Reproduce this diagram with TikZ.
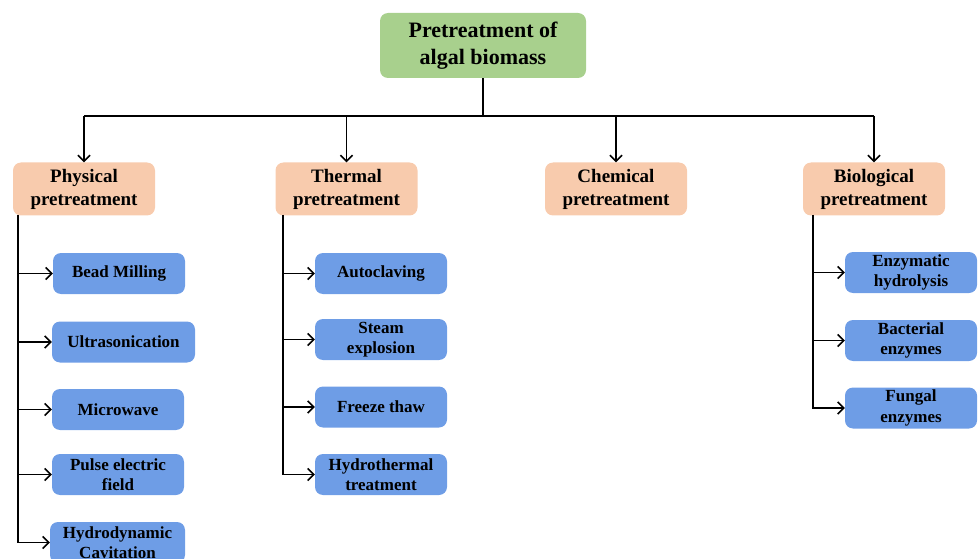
\documentclass[tikz,border=0pt]{standalone}
\usepackage{fontspec}
\setmainfont{Liberation Serif}
\usetikzlibrary{arrows.meta}
\definecolor{topgreen}{HTML}{A8D08D}
\definecolor{catorange}{HTML}{F8CBAD}
\definecolor{leafblue}{HTML}{6E9DE6}
\tikzset{
  box/.style={rounded corners=8pt, align=center, inner sep=2pt, font=\bfseries},
  topbox/.style={box, fill=topgreen, minimum width=206pt, minimum height=65pt, font=\bfseries\fontsize{22}{27}\selectfont},
  catbox/.style={box, fill=catorange, minimum width=142pt, minimum height=53pt, font=\bfseries\fontsize{19}{23}\selectfont},
  leafbox/.style={box, fill=leafblue, minimum width=132pt, minimum height=41pt, font=\bfseries\fontsize{17}{20.5}\selectfont},
  conn/.style={draw=black, line width=1.7pt},
  arr/.style={conn, -{Straight Barb[length=6pt,width=12pt,line width=1.6pt]}}
}
\begin{document}
\begin{tikzpicture}[x=1pt,y=-1pt]
\useasboundingbox (0,0) rectangle (978,559);
\begin{scope}
\clip (0,0) rectangle (978,559);
\node[topbox] (root) at (483,45.5) {Pretreatment of\\algal biomass};

\node[catbox] (phys) at (84,189) {Physical\\pretreatment};
\node[catbox] (therm) at (346.5,189) {Thermal\\pretreatment};
\node[catbox] (chem) at (616,189) {Chemical\\pretreatment};
\node[catbox] (bio) at (874,189) {Biological\\pretreatment};

\node[leafbox] (p1) at (119,273.5) {Bead Milling};
\node[leafbox, minimum width=143pt] (p2) at (123.5,342) {Ultrasonication};
\node[leafbox] (p3) at (118,409.5) {Microwave};
\node[leafbox] (p4) at (118,474.5) {Pulse electric\\field};
\node[leafbox, minimum width=135pt] (p5) at (117.5,542.5) {Hydrodynamic\\Cavitation};

\node[leafbox] (t1) at (381,273.5) {Autoclaving};
\node[leafbox] (t2) at (381,339.5) {Steam\\explosion};
\node[leafbox] (t3) at (381,407) {Freeze thaw};
\node[leafbox] (t4) at (381,474.5) {Hydrothermal\\treatment};

\node[leafbox] (b1) at (911,272.5) {Enzymatic\\hydrolysis};
\node[leafbox] (b2) at (911,340.5) {Bacterial\\enzymes};
\node[leafbox] (b3) at (911,408) {Fungal\\enzymes};

\coordinate (bus) at (483,116);
\draw[conn] (root.south) -- (bus);
\draw[conn] (phys.north |- bus) -- (bio.north |- bus);
\foreach \c in {phys,therm,chem,bio}{
  \draw[arr] (\c.north |- bus) -- (\c.north);
}

\coordinate (pt) at (18,215);
\coordinate (tt) at (283,215);
\coordinate (bt) at (813,215);

\draw[arr] (pt) |- (p5.west);
\foreach \n in {p1,p2,p3,p4}{\draw[arr] (pt |- \n.west) -- (\n.west);}
\draw[arr] (tt) |- (t4.west);
\foreach \n in {t1,t2,t3}{\draw[arr] (tt |- \n.west) -- (\n.west);}
\draw[arr] (bt) |- (b3.west);
\foreach \n in {b1,b2}{\draw[arr] (bt |- \n.west) -- (\n.west);}
\end{scope}
\end{tikzpicture}
\end{document}
